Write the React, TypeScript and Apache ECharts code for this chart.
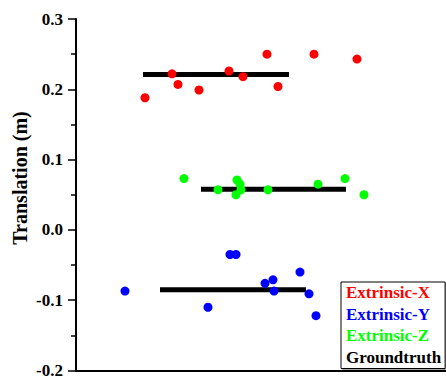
import React, { useEffect, useRef } from "react";
import * as echarts from "echarts";

const redX = [6.9, 9.6, 10.2, 12.3, 15.3, 16.7, 19.1, 20.2, 23.8, 28.1];
const redY = [0.188, 0.222, 0.207, 0.199, 0.226, 0.218, 0.25, 0.204, 0.25, 0.243];
const blueX = [4.9, 15.4, 16.0, 13.2, 18.9, 19.7, 19.8, 22.4, 23.3, 24.0];
const blueY = [-0.087, -0.035, -0.035, -0.11, -0.076, -0.071, -0.087, -0.06, -0.091, -0.122];
const greenX = [10.8, 14.2, 16.1, 16.4, 16.5, 16.0, 19.2, 24.2, 26.9, 28.8];
const greenY = [0.073, 0.057, 0.071, 0.065, 0.057, 0.05, 0.057, 0.065, 0.073, 0.05];
// groundtruth segments: [xStart, xEnd, y]
const truthX = [6.7, 21.3, 0.221];
const truthY = [8.4, 23.0, -0.085];
const truthZ = [12.5, 27.0, 0.058];

const seriesNames = ["Extrinsic-X", "Extrinsic-Y", "Extrinsic-Z", "Groundtruth"];
const seriesColors = ["#ff0000", "#0000ff", "#00ff00", "#000000"];

const FONT = "'Liberation Serif', 'Times New Roman', serif";

export default function App() {
  const ref = useRef<HTMLDivElement>(null);
  useEffect(() => {
    if (!ref.current) return;
    const chart = echarts.init(ref.current, undefined, { renderer: "svg" });
    const pts = (xs: number[], ys: number[]) => xs.map((x, i) => [x, ys[i]]);
    const scatter = (i: number, xs: number[], ys: number[]) => ({
      name: seriesNames[i],
      type: "scatter",
      data: pts(xs, ys),
      symbolSize: 9,
      itemStyle: { color: seriesColors[i], opacity: 1 },
      z: 5,
    });
    const truth = (seg: number[]) => ({
      name: seriesNames[3],
      type: "line",
      data: [
        [seg[0], seg[2]],
        [seg[1], seg[2]],
      ],
      showSymbol: false,
      symbol: "none",
      lineStyle: { color: "#000", width: 5 },
      itemStyle: { color: "#000" },
      z: 2,
    });
    chart.setOption({
      animation: false,
      grid: { left: 76, right: 0, top: 19, bottom: 5 },
      xAxis: {
        type: "value",
        min: 0,
        max: 37,
        axisLine: { show: true, onZero: false, lineStyle: { color: "#000", width: 2 } },
        axisTick: { show: false },
        axisLabel: { show: false },
        splitLine: { show: false },
      },
      yAxis: {
        type: "value",
        min: -0.2,
        max: 0.3,
        interval: 0.1,
        axisLine: { show: true, lineStyle: { color: "#000", width: 2 } },
        axisTick: { show: true, inside: false, length: 8, lineStyle: { color: "#000", width: 1.5 } },
        minorTick: { show: true, splitNumber: 2, length: 5, lineStyle: { color: "#000", width: 1.5 } },
        axisLabel: {
          formatter: (v: number) => v.toFixed(1),
          color: "#000",
          fontFamily: FONT,
          fontWeight: "bold",
          fontSize: 17,
          margin: 13,
        },
        splitLine: { show: false },
      },
      legend: {
        orient: "vertical",
        left: 341,
        top: 282,
        icon: "none",
        itemWidth: 0,
        itemHeight: 17,
        itemGap: 4.5,
        padding: [2, 4, 3, 0],
        borderColor: "#000",
        borderWidth: 1,
        shadowColor: "rgba(0,0,0,0.35)",
        shadowOffsetX: 1,
        shadowOffsetY: 1,
        backgroundColor: "#fff",
        selectedMode: false,
        textStyle: { fontFamily: FONT, fontWeight: "bold", fontSize: 17 },
        data: seriesNames.map((n, i) => ({ name: n, textStyle: { color: seriesColors[i] } })),
      },
      graphic: [
        {
          type: "text",
          x: 20,
          y: 178,
          rotation: Math.PI / 2,
          style: {
            text: "Translation (m)",
            fontFamily: FONT,
            fontWeight: "bold",
            fontSize: 20,
            fill: "#000",
            align: "center",
            verticalAlign: "middle",
          },
        },
      ],
      series: [
        truth(truthX),
        truth(truthY),
        truth(truthZ),
        scatter(0, redX, redY),
        scatter(1, blueX, blueY),
        scatter(2, greenX, greenY),
      ],
    });
    return () => chart.dispose();
  }, []);
  return (
    <div
      ref={ref}
      style={{ position: "absolute", left: 0, top: 0, width: 446, height: 379 }}
    />
  );
}
